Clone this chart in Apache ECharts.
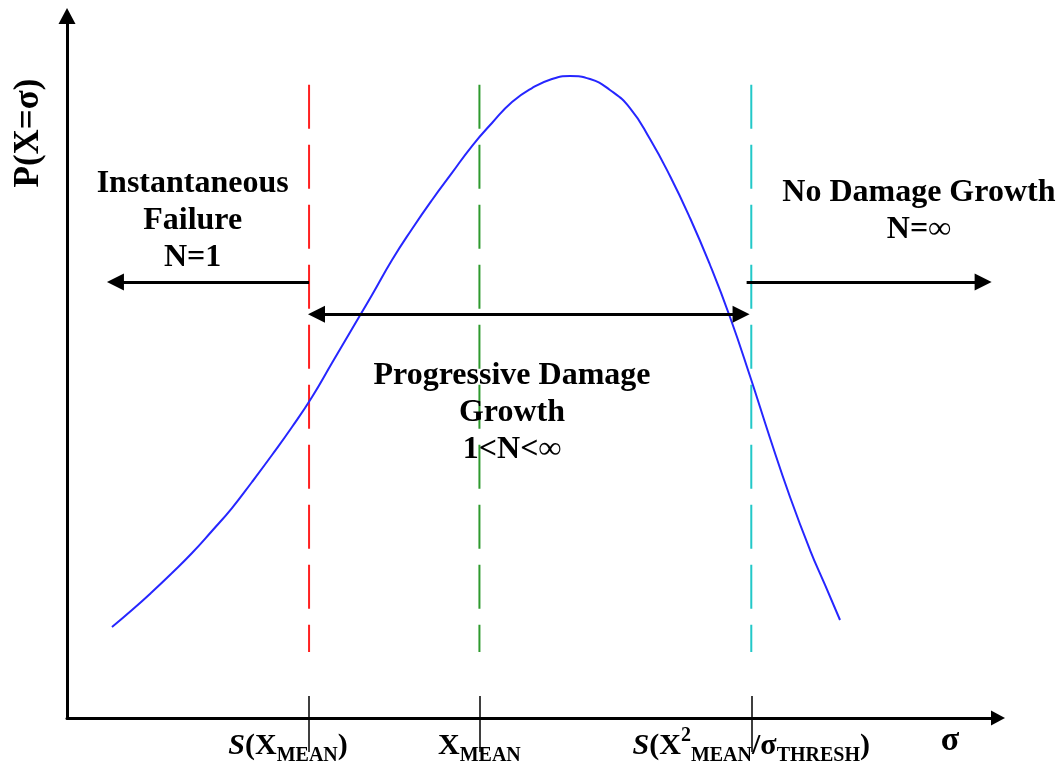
<!DOCTYPE html>
<html>
<head>
<meta charset="utf-8">
<title>Damage growth regimes</title>
<script src="https://cdn.jsdelivr.net/npm/echarts@6/dist/echarts.min.js"></script>
<style>
  html, body { margin: 0; padding: 0; background: #ffffff; }
  #chart { width: 1063px; height: 771px; }
</style>
</head>
<body>
<div id="chart"></div>
<script>
// Probability density of peak stress, P(X = sigma), in arbitrary units (0-100 on both axes)
const curveSigma = [4.83, 6.98, 9.13, 11.28, 13.43, 15.57, 17.72, 19.87, 22.02, 24.17, 26.32, 28.46, 30.61, 32.76, 34.91, 37.06, 39.21, 41.35, 43.50,
                    45.65, 47.80, 49.95, 52.09, 54.03, 56.18, 58.32, 60.47, 62.62, 64.77, 66.92, 69.07, 71.21, 73.36, 75.51, 77.66, 79.81, 81.42, 83.03];
const curveProb  = [12.96, 15.38, 17.95, 20.66, 23.50, 26.64, 29.91, 33.62, 37.46, 41.45, 45.73, 50.57, 55.41, 60.26, 65.24, 69.66, 73.79, 77.64, 81.48,
                    84.76, 87.75, 89.74, 91.03, 91.45, 91.03, 89.46, 86.89, 82.48, 77.21, 71.23, 64.53, 57.12, 48.72, 39.89, 31.48, 23.93, 18.95, 13.96];

// Characteristic stress levels: S(X_MEAN), X_MEAN, S(X^2_MEAN / sigma_THRESH)
const levelSigma  = [26.0, 44.3, 73.5];
const levelColors = ['#ff2020', '#2e9a2e', '#22c8c8'];
const levelSpan   = [9.4, 90.2];   // vertical extent of the dashed guides

// Tick labels (rich text)
const tickLabels = [
  '{it|S}{b|(X}{sub|MEAN}{b|)}{gap| }',
  '{b|X}{sub|MEAN}',
  '{it|S}{b|(X}{sup|2}{sub|MEAN}{b|/σ}{sub|THRESH}{b|)}'
];

// Regime arrows: [sigma start, sigma end, level, two-headed]
const arrowFrom  = [26.0, 26.8, 73.0];
const arrowTo    = [5.2, 72.4, 98.4];
const arrowLevel = [62.1, 57.5, 62.1];
const arrowBoth  = [false, true, false];

// Regime captions and their anchor points
const regimeText  = ['Instantaneous\nFailure\nN=1', 'Progressive Damage\nGrowth\n1<N<∞', 'No Damage Growth\nN=∞'];
const regimeSigma = [13.5, 47.8, 91.5];
const regimeProb  = [70.9, 43.5, 72.2];

const SERIF = '"Liberation Serif", "Times New Roman", serif';

const chart = echarts.init(document.getElementById('chart'), null, { renderer: 'canvas' });

const richStyles = {
  it:  { fontFamily: SERIF, fontSize: 30, fontWeight: 'bold', fontStyle: 'italic', color: '#000', lineHeight: 40 },
  b:   { fontFamily: SERIF, fontSize: 30, fontWeight: 'bold', color: '#000', lineHeight: 40 },
  sub: { fontFamily: SERIF, fontSize: 20, fontWeight: 'bold', color: '#000', lineHeight: 18, verticalAlign: 'bottom' },
  sup: { fontFamily: SERIF, fontSize: 20, fontWeight: 'bold', color: '#000', lineHeight: 20, verticalAlign: 'top' },
  gap: { width: 42, fontSize: 10 }
};

const series = [];

// Density curve, with the regime arrows and captions attached
series.push({
  type: 'line',
  data: curveSigma.map((s, i) => [s, curveProb[i]]),
  smooth: 0.5,
  showSymbol: false,
  silent: true,
  lineStyle: { color: '#2626ff', width: 2 },
  z: 3,
  markLine: {
    silent: true,
    symbolSize: 17,
    label: { show: false },
    lineStyle: { color: '#000', width: 3, type: 'solid' },
    data: arrowFrom.map((s, i) => [
      { coord: [s, arrowLevel[i]], symbol: arrowBoth[i] ? 'triangle' : 'none' },
      { coord: [arrowTo[i], arrowLevel[i]], symbol: 'triangle' }
    ])
  },
  markPoint: {
    silent: true,
    symbol: 'circle',
    symbolSize: 0,
    itemStyle: { color: 'rgba(0,0,0,0)' },
    label: {
      show: true,
      position: 'inside',
      color: '#000',
      fontFamily: SERIF,
      fontSize: 32,
      fontWeight: 'bold',
      lineHeight: 37,
      align: 'center',
      verticalAlign: 'middle',
      formatter: p => p.name
    },
    data: regimeText.map((t, i) => ({ name: t, coord: [regimeSigma[i], regimeProb[i]] }))
  }
});

// Dashed guides at each characteristic stress
levelSigma.forEach((s, i) => {
  series.push({
    type: 'line',
    data: [[s, levelSpan[1]], [s, levelSpan[0]]],
    showSymbol: false,
    silent: true,
    lineStyle: { color: levelColors[i], width: 2, type: [44, 16] },
    z: 2
  });
});

const option = {
  animation: false,
  backgroundColor: '#ffffff',
  grid: { left: 67, right: 65, top: 16, bottom: 53, containLabel: false, outerBoundsMode: 'none' },
  xAxis: [
    {
      type: 'value', min: 0, max: 100,
      position: 'bottom', offset: 0,
      splitLine: { show: false },
      axisLine: {
        show: true, onZero: false,
        symbol: ['none', 'triangle'], symbolSize: [15, 14],
        lineStyle: { color: '#000', width: 3 }
      },
      axisTick: {
        show: true, inside: false, length: 34, customValues: levelSigma,
        lineStyle: { color: '#000', width: 1.5 }
      },
      axisLabel: {
        show: true, margin: 8, customValues: levelSigma,
        formatter: v => tickLabels[levelSigma.indexOf(v)] || '',
        rich: richStyles
      }
    },
    {
      type: 'value', min: 0, max: 100,
      position: 'bottom', offset: 0,
      splitLine: { show: false },
      axisLine: { show: false },
      axisLabel: { show: false },
      axisTick: {
        show: true, inside: true, length: 22, customValues: levelSigma,
        lineStyle: { color: '#000', width: 1.5 }
      }
    }
  ],
  yAxis: {
    type: 'value', min: 0, max: 100,
    splitLine: { show: false },
    axisTick: { show: false },
    axisLabel: { show: false },
    axisLine: {
      show: true, onZero: false,
      symbol: ['none', 'triangle'], symbolSize: [17, 16],
      lineStyle: { color: '#000', width: 3 }
    }
  },
  graphic: [
    {
      type: 'text', x: 29, y: 133, rotation: Math.PI / 2, silent: true,
      style: { text: 'P(X=σ)', font: 'bold 35px ' + SERIF, fill: '#000', align: 'center', verticalAlign: 'middle' }
    },
    {
      type: 'text', x: 950, y: 741, silent: true,
      style: { text: 'σ', font: 'bold 34px ' + SERIF, fill: '#000', align: 'center', verticalAlign: 'middle' }
    }
  ],
  series: series
};

chart.setOption(option);
</script>
</body>
</html>
